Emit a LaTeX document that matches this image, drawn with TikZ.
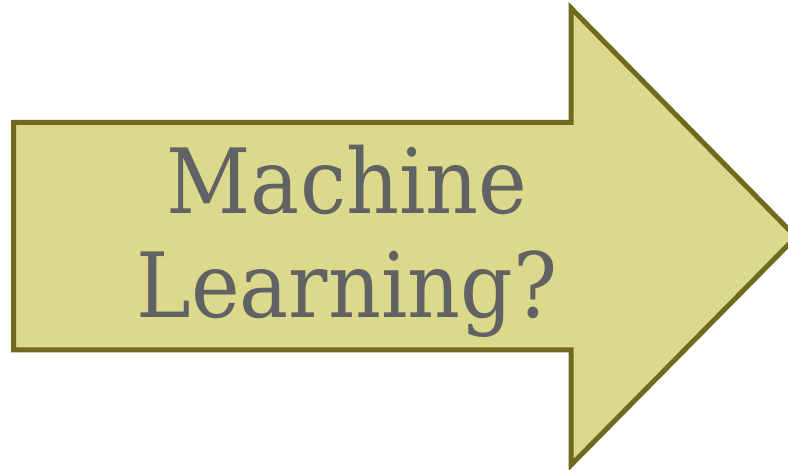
\documentclass[tikz,border=0pt]{standalone}
\usepackage{fontspec}
\setmainfont{DejaVu Serif}[FakeStretch=0.915]
\usepackage{tikz}
\definecolor{arrowfill}{RGB}{221,217,140}
\definecolor{arrowline}{RGB}{112,106,32}
\definecolor{textgray}{RGB}{96,98,100}
\tikzset{
  bigarrow/.style={draw=arrowline, fill=arrowfill, line width=5pt, line join=miter},
  arrowtext/.style={text=textgray, align=center, font=\fontsize{90}{104}\selectfont}
}

\begin{document}
\begin{tikzpicture}[x=1pt, y=-1pt]
			%%%%% START %%%%%
			\useasboundingbox (0, 0) rectangle (788, 470);
			\clip (0, 0) rectangle (788, 470);
			
			\draw[bigarrow] (13.5, 122.5) -- (571, 122.5) -- (571, 8) -- (796, 237)
				-- (571, 465) -- (571, 350) -- (13.5, 350) -- cycle;
			
			\node[arrowtext] (ml) at (347, 241) {Machine\\Learning?};
			%%%%% END %%%%%
\end{tikzpicture}
\end{document}
